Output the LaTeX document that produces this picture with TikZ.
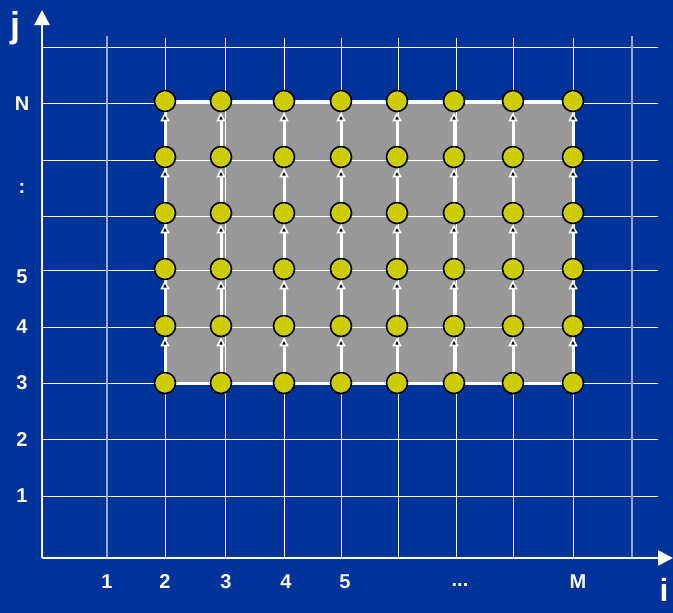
\documentclass[tikz,border=0pt]{standalone}
\usepackage{fontspec}
\setmainfont{Liberation Sans}
\usetikzlibrary{arrows.meta}
\definecolor{bgblue}{HTML}{003399}
\definecolor{dotyellow}{HTML}{CCCC00}
\definecolor{fadeline}{HTML}{9AA8D0}

\begin{document}
\begin{tikzpicture}[x=1pt,y=-1pt,thick,
  gridline/.style={white,line width=1pt},
  axis/.style={white,line width=2.5pt,-{Triangle[width=15pt,length=15pt]}},
  gridpt/.style={circle,draw=black,line width=1.6pt,fill=dotyellow,minimum size=21pt,inner sep=0pt},
  uparrow/.style={white,line width=3pt,-{Triangle[width=9pt,length=9pt,fill=black,line width=1.6pt]}},
  lab/.style={white,font=\fontsize{20}{20}\selectfont\bfseries},
  axislab/.style={white,font=\fontsize{36}{36}\selectfont\bfseries}]
\fill[bgblue] (0,0) rectangle (673,613);
\useasboundingbox (0,0) rectangle (673,613);
\fill[gray!80] (165,101) rectangle (573,383);
% grid
\foreach \y in {47,103,160,216,270,327,383,439,496}
  \draw[gridline] (42,\y) -- (658,\y);
\foreach \x in {165,225,284,341,398,456,513,573}
  \draw[gridline] (\x,38) -- (\x,558);
\foreach \x in {107,632}
  \draw[fadeline,line width=1.5pt] (\x,36) -- (\x,558);
\draw[white,line width=3pt] (165,101) rectangle (573,383);
% axes
\coordinate (o) at (42,558);
\coordinate (xtip) at (673,558);
\coordinate (ytip) at (42,10);
\draw[axis] (o) -- (xtip);
\draw[axis] (o) -- (ytip);
\node[axislab] (jlab) at (16,28) {j};
\node[axislab,font=\fontsize{32}{32}\selectfont\bfseries] (ilab) at (664,590) {i};
% points
\foreach \x [count=\c] in {165,221,284,341,397,454,513,573}
  \foreach \y [count=\r] in {383,326,269,213,157,101}
    \node[gridpt] (p-\c-\r) at (\x,\y) {};
\foreach \c in {1,...,8}
  \foreach \r [count=\s from 2] in {1,...,5}
    \draw[uparrow] (p-\c-\r) -- (p-\c-\s);
% labels
\foreach \t/\y [count=\k] in {N/104,:/188,5/277,4/327,3/383,2/440,1/496}
  \node[lab] (row-\k) at (22,\y) {\t};
\foreach \t/\x [count=\k] in {1/107,2/165,3/226,4/286,5/345,M/578}
  \node[lab] (col-\k) at (\x,582) {\t};
\node[lab] (dots) at (460,585) {...};
\end{tikzpicture}
\end{document}
